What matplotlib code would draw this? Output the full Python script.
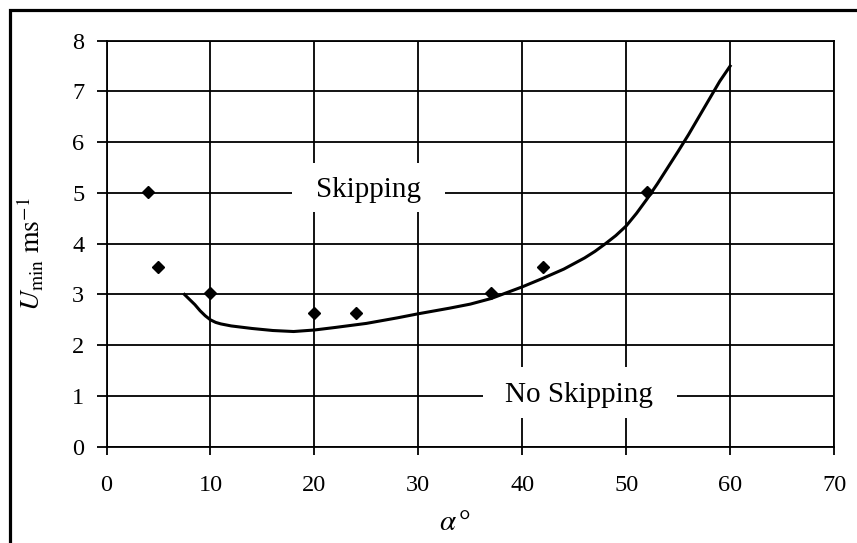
import numpy as np
import matplotlib
matplotlib.use('Agg')
import matplotlib.pyplot as plt
from matplotlib.patches import Rectangle

# measured points (alpha in degrees, U_min in m/s)
alpha_pts = [4, 5, 10, 20, 24, 37, 42, 52]
umin_pts = [5.02, 3.55, 3.03, 2.63, 2.63, 3.02, 3.55, 5.02]

# model curve
alpha_curve = [7.5, 8, 8.5, 9, 9.5, 10, 10.5, 11, 12, 14, 16, 18, 20, 22, 25, 28, 30, 33,
               35, 37, 40, 42, 44, 46, 47, 48, 49, 50, 51, 52, 53, 54, 55, 56, 57,
               58, 59, 60]
umin_curve = [3.0, 2.9, 2.8, 2.68, 2.58, 2.5, 2.45, 2.42, 2.38, 2.33, 2.29, 2.27, 2.3, 2.35,
              2.43, 2.54, 2.62, 2.73, 2.81, 2.92, 3.15, 3.32, 3.5, 3.72, 3.85, 4.0, 4.16,
              4.35, 4.6, 4.88, 5.18, 5.5, 5.82, 6.15, 6.5, 6.85, 7.2, 7.5]

xticks = [0, 10, 20, 30, 40, 50, 60, 70]
yticks = [0, 1, 2, 3, 4, 5, 6, 7, 8]

plt.rcParams['font.family'] = ['Liberation Serif', 'DejaVu Serif']
plt.rcParams['mathtext.fontset'] = 'stix'

fig = plt.figure(figsize=(8.57, 5.43), dpi=100)
ax = fig.add_axes([0.1243, 0.1773, 0.8489, 0.7477])

# outer frame, cut off at the right and bottom edges
top = 1 - 10.5 / 543
fig.patches.append(Rectangle((9.5 / 857, -0.1), 1.2, top + 0.1,
                             transform=fig.transFigure, fill=False, lw=2.3,
                             edgecolor='black', clip_on=False))

ax.plot(alpha_curve, umin_curve, color='black', lw=2.2, zorder=4)
ax.plot(alpha_pts, umin_pts, linestyle='none', marker='D', ms=6,
        color='black', zorder=5)

ax.set_xlim(0, 70)
ax.set_ylim(0, 8)
ax.set_xticks(xticks)
ax.set_yticks(yticks)
ax.grid(True, color='black', lw=1.3)
ax.set_axisbelow(True)
for s in ax.spines.values():
    s.set_linewidth(1.3)
ax.tick_params(axis='y', direction='out', length=7, width=1.3, pad=9, labelsize=17.5)
ax.tick_params(axis='x', direction='out', length=6, width=1.3, pad=14, labelsize=17.5)

# white boxes behind the region labels
ax.add_patch(Rectangle((17.85, 4.62), 14.73, 0.97, facecolor='white',
                       edgecolor='none', zorder=2))
ax.text(25.25, 4.93, 'Skipping', ha='center', va='baseline', fontsize=21, zorder=3)
ax.add_patch(Rectangle((36.25, 0.566), 18.65, 1.0, facecolor='white',
                       edgecolor='none', zorder=2))
ax.text(45.5, 0.887, 'No Skipping', ha='center', va='baseline', fontsize=21, zorder=3)

ax.set_xlabel(r'$\alpha\,$°', fontsize=21)
ax.xaxis.set_label_coords(0.479, -0.155)
ax.set_ylabel(r'$U_{\mathrm{min}}\ \mathrm{ms}^{-1}$', fontsize=20)
ax.yaxis.set_label_coords(-0.082, 0.475)

fig.savefig('out.png', dpi=100)
